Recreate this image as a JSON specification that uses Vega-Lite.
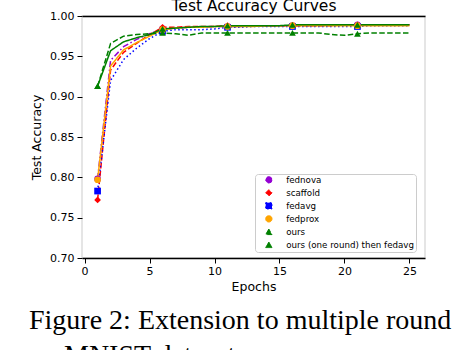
{
  "$schema": "https://vega.github.io/schema/vega-lite/v6.json",
  "width": 343,
  "height": 242,
  "autosize": {"type": "none"},
  "padding": {"left": 82, "top": 16, "right": 33, "bottom": 92},
  "background": "white",
  "title": {
    "text": "Figure 2: Extension to multiple round",
    "subtitle": "\u200b\u00a0\u00a0\u00a0\u00a0\u00a0MNIST dataset",
    "orient": "bottom",
    "anchor": "start",
    "frame": "group",
    "dx": -53,
    "offset": 14,
    "font": "Liberation Serif",
    "fontSize": 28,
    "fontWeight": "normal",
    "color": "black",
    "subtitleFont": "Liberation Serif",
    "subtitleFontSize": 28,
    "subtitleColor": "black",
    "subtitlePadding": 7
  },
  "datasets": {
    "acc": [
      {"m":"fednova","e":1,"v":0.798},{"m":"fednova","e":2,"v":0.945},{"m":"fednova","e":3,"v":0.962},{"m":"fednova","e":4,"v":0.971},{"m":"fednova","e":5,"v":0.978},{"m":"fednova","e":6,"v":0.984},{"m":"fednova","e":7,"v":0.985},{"m":"fednova","e":8,"v":0.986},{"m":"fednova","e":9,"v":0.986},{"m":"fednova","e":10,"v":0.987},{"m":"fednova","e":11,"v":0.987},{"m":"fednova","e":12,"v":0.987},{"m":"fednova","e":13,"v":0.988},{"m":"fednova","e":14,"v":0.988},{"m":"fednova","e":15,"v":0.988},{"m":"fednova","e":16,"v":0.988},{"m":"fednova","e":17,"v":0.988},{"m":"fednova","e":18,"v":0.988},{"m":"fednova","e":19,"v":0.989},{"m":"fednova","e":20,"v":0.989},{"m":"fednova","e":21,"v":0.989},{"m":"fednova","e":22,"v":0.989},{"m":"fednova","e":23,"v":0.989},{"m":"fednova","e":24,"v":0.989},{"m":"fednova","e":25,"v":0.989},
      {"m":"scaffold","e":1,"v":0.772},{"m":"scaffold","e":2,"v":0.933},{"m":"scaffold","e":3,"v":0.955},{"m":"scaffold","e":4,"v":0.966},{"m":"scaffold","e":5,"v":0.977},{"m":"scaffold","e":6,"v":0.986},{"m":"scaffold","e":7,"v":0.986},{"m":"scaffold","e":8,"v":0.987},{"m":"scaffold","e":9,"v":0.987},{"m":"scaffold","e":10,"v":0.987},{"m":"scaffold","e":11,"v":0.988},{"m":"scaffold","e":12,"v":0.988},{"m":"scaffold","e":13,"v":0.988},{"m":"scaffold","e":14,"v":0.988},{"m":"scaffold","e":15,"v":0.988},{"m":"scaffold","e":16,"v":0.988},{"m":"scaffold","e":17,"v":0.988},{"m":"scaffold","e":18,"v":0.988},{"m":"scaffold","e":19,"v":0.988},{"m":"scaffold","e":20,"v":0.989},{"m":"scaffold","e":21,"v":0.989},{"m":"scaffold","e":22,"v":0.989},{"m":"scaffold","e":23,"v":0.989},{"m":"scaffold","e":24,"v":0.989},{"m":"scaffold","e":25,"v":0.989},
      {"m":"fedavg","e":1,"v":0.783},{"m":"fedavg","e":2,"v":0.920},{"m":"fedavg","e":3,"v":0.946},{"m":"fedavg","e":4,"v":0.960},{"m":"fedavg","e":5,"v":0.972},{"m":"fedavg","e":6,"v":0.981},{"m":"fedavg","e":7,"v":0.983},{"m":"fedavg","e":8,"v":0.983},{"m":"fedavg","e":9,"v":0.983},{"m":"fedavg","e":10,"v":0.984},{"m":"fedavg","e":11,"v":0.986},{"m":"fedavg","e":12,"v":0.986},{"m":"fedavg","e":13,"v":0.987},{"m":"fedavg","e":14,"v":0.987},{"m":"fedavg","e":15,"v":0.987},{"m":"fedavg","e":16,"v":0.987},{"m":"fedavg","e":17,"v":0.987},{"m":"fedavg","e":18,"v":0.987},{"m":"fedavg","e":19,"v":0.987},{"m":"fedavg","e":20,"v":0.987},{"m":"fedavg","e":21,"v":0.987},{"m":"fedavg","e":22,"v":0.988},{"m":"fedavg","e":23,"v":0.988},{"m":"fedavg","e":24,"v":0.988},{"m":"fedavg","e":25,"v":0.988},
      {"m":"fedprox","e":1,"v":0.797},{"m":"fedprox","e":2,"v":0.938},{"m":"fedprox","e":3,"v":0.958},{"m":"fedprox","e":4,"v":0.967},{"m":"fedprox","e":5,"v":0.975},{"m":"fedprox","e":6,"v":0.983},{"m":"fedprox","e":7,"v":0.985},{"m":"fedprox","e":8,"v":0.986},{"m":"fedprox","e":9,"v":0.986},{"m":"fedprox","e":10,"v":0.987},{"m":"fedprox","e":11,"v":0.987},{"m":"fedprox","e":12,"v":0.987},{"m":"fedprox","e":13,"v":0.987},{"m":"fedprox","e":14,"v":0.988},{"m":"fedprox","e":15,"v":0.988},{"m":"fedprox","e":16,"v":0.988},{"m":"fedprox","e":17,"v":0.988},{"m":"fedprox","e":18,"v":0.988},{"m":"fedprox","e":19,"v":0.988},{"m":"fedprox","e":20,"v":0.988},{"m":"fedprox","e":21,"v":0.988},{"m":"fedprox","e":22,"v":0.988},{"m":"fedprox","e":23,"v":0.988},{"m":"fedprox","e":24,"v":0.988},{"m":"fedprox","e":25,"v":0.988},
      {"m":"ours","e":1,"v":0.913},{"m":"ours","e":2,"v":0.966},{"m":"ours","e":3,"v":0.975},{"m":"ours","e":4,"v":0.977},{"m":"ours","e":5,"v":0.978},{"m":"ours","e":6,"v":0.979},{"m":"ours","e":7,"v":0.978},{"m":"ours","e":8,"v":0.976},{"m":"ours","e":9,"v":0.979},{"m":"ours","e":10,"v":0.979},{"m":"ours","e":11,"v":0.979},{"m":"ours","e":12,"v":0.979},{"m":"ours","e":13,"v":0.979},{"m":"ours","e":14,"v":0.979},{"m":"ours","e":15,"v":0.979},{"m":"ours","e":16,"v":0.979},{"m":"ours","e":17,"v":0.979},{"m":"ours","e":18,"v":0.979},{"m":"ours","e":19,"v":0.977},{"m":"ours","e":20,"v":0.976},{"m":"ours","e":21,"v":0.978},{"m":"ours","e":22,"v":0.979},{"m":"ours","e":23,"v":0.979},{"m":"ours","e":24,"v":0.979},{"m":"ours","e":25,"v":0.979},
      {"m":"ours (one round) then fedavg","e":1,"v":0.913},{"m":"ours (one round) then fedavg","e":2,"v":0.957},{"m":"ours (one round) then fedavg","e":3,"v":0.968},{"m":"ours (one round) then fedavg","e":4,"v":0.973},{"m":"ours (one round) then fedavg","e":5,"v":0.977},{"m":"ours (one round) then fedavg","e":6,"v":0.984},{"m":"ours (one round) then fedavg","e":7,"v":0.985},{"m":"ours (one round) then fedavg","e":8,"v":0.986},{"m":"ours (one round) then fedavg","e":9,"v":0.987},{"m":"ours (one round) then fedavg","e":10,"v":0.987},{"m":"ours (one round) then fedavg","e":11,"v":0.988},{"m":"ours (one round) then fedavg","e":12,"v":0.988},{"m":"ours (one round) then fedavg","e":13,"v":0.988},{"m":"ours (one round) then fedavg","e":14,"v":0.988},{"m":"ours (one round) then fedavg","e":15,"v":0.988},{"m":"ours (one round) then fedavg","e":16,"v":0.989},{"m":"ours (one round) then fedavg","e":17,"v":0.989},{"m":"ours (one round) then fedavg","e":18,"v":0.989},{"m":"ours (one round) then fedavg","e":19,"v":0.989},{"m":"ours (one round) then fedavg","e":20,"v":0.989},{"m":"ours (one round) then fedavg","e":21,"v":0.989},{"m":"ours (one round) then fedavg","e":22,"v":0.989},{"m":"ours (one round) then fedavg","e":23,"v":0.989},{"m":"ours (one round) then fedavg","e":24,"v":0.989},{"m":"ours (one round) then fedavg","e":25,"v":0.989}
    ]
  },
  "data": {"name": "acc"},
  "layer": [
    {
      "mark": {"type": "line", "strokeWidth": 1.5, "clip": true},
      "encoding": {
        "x": {"field": "e", "type": "quantitative",
              "scale": {"domain": [-0.2, 26.2], "nice": false, "zero": false},
              "axis": {"orient": "bottom", "title": "Epochs", "values": [0,5,10,15,20,25], "domainColor": "black", "domainWidth": 1.5, "tickColor": "black", "tickSize": 5, "labelPadding": 2, "titlePadding": 4}},
        "y": {"field": "v", "type": "quantitative",
              "scale": {"domain": [0.7, 1.0], "nice": false, "zero": false},
              "axis": {"title": "Test Accuracy", "values": [0.7,0.75,0.8,0.85,0.9,0.95,1.0], "format": ".2f", "domain": false, "tickColor": "black", "tickSize": 5, "labelPadding": 3, "titlePadding": 6}},
        "color": {"field": "m", "type": "nominal",
                  "scale": {"domain": ["fednova","scaffold","fedavg","fedprox","ours","ours (one round) then fedavg"],
                            "range": ["#9400d3","#ff0000","#0000ff","#ffa500","#008000","#008000"]},
                  "legend": {"orient": "none", "legendX": 173, "legendY": 158, "title": null}},
        "strokeDash": {"field": "m", "type": "nominal",
                  "scale": {"domain": ["fednova","scaffold","fedavg","fedprox","ours","ours (one round) then fedavg"],
                            "range": [[6,2.5,1.5,2.5],[5.5,2.4],[1.5,2.5],[1,0],[5.5,2.4],[1,0]]},
                  "legend": null}
      }
    },
    {
      "transform": [{"filter": {"field": "e", "oneOf": [1,6,11,16,21]}}],
      "mark": {"type": "point", "filled": true, "size": 45, "opacity": 1},
      "encoding": {
        "x": {"field": "e", "type": "quantitative",
              "axis": {"orient": "top", "title": "Test Accuracy Curves", "labels": false, "ticks": false, "domain": true, "domainColor": "black", "domainWidth": 1.5, "titleFontSize": 15.5, "titlePadding": 3}},
        "y": {"field": "v", "type": "quantitative"},
        "color": {"field": "m", "type": "nominal"},
        "shape": {"field": "m", "type": "nominal",
                  "scale": {"domain": ["fednova","scaffold","fedavg","fedprox","ours","ours (one round) then fedavg"],
                            "range": ["circle","diamond","square","circle","triangle-up","triangle-up"]},
                  "legend": {"orient": "none", "legendX": 173, "legendY": 158, "title": null}}
      }
    }
  ],
  "resolve": {"axis": {"x": "independent"}},
  "config": {
    "view": {"stroke": "#dddddd", "strokeWidth": 1.5},
    "font": "DejaVu Sans",
    "axis": {"labelFont": "DejaVu Sans", "titleFont": "DejaVu Sans", "labelFontSize": 11, "titleFontSize": 12.5, "titleFontWeight": "normal", "labelColor": "black", "titleColor": "black", "grid": false},
    "legend": {"labelFont": "DejaVu Sans", "labelFontSize": 8.7, "labelColor": "black", "padding": 1.5, "rowPadding": 2, "strokeColor": "#cccccc", "fillColor": "white", "cornerRadius": 3, "symbolSize": 40, "symbolOffset": 8, "labelOffset": 13, "symbolStrokeWidth": 1}
  }
}
